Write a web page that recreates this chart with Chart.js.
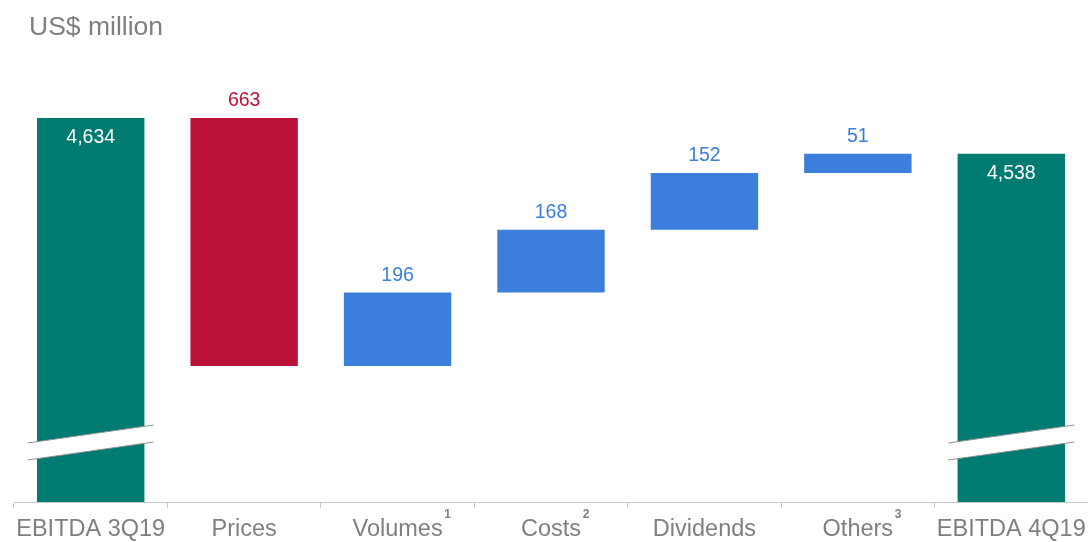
<!DOCTYPE html>
<html>
<head>
<meta charset="utf-8">
<script src="https://cdn.jsdelivr.net/npm/chart.js@4.4.0/dist/chart.umd.min.js"></script>
<style>
  html, body { margin: 0; padding: 0; background: #fff; }
  #wrap { width: 1088px; height: 542px; }
</style>
</head>
<body>
<div id="wrap"><canvas id="chart"></canvas></div>
<script>
// Waterfall data (US$ million)
const categories = ['EBITDA 3Q19', 'Prices', 'Volumes', 'Costs', 'Dividends', 'Others', 'EBITDA 4Q19'];
const superscripts = ['', '', '1', '2', '', '3', ''];
const startValue = 4634;
const changes = [-663, 196, 168, 152, 51];
const endValue = 4538;
const axisMin = 3607;
const axisMax = 4789;

const GREEN = '#007B72';
const RED = '#BA1238';
const BLUE = '#3C7EDC';
const GREY = '#7F7F7F';
const FONT = '"Liberation Sans", Arial, sans-serif';

// Build floating bar ranges
const ranges = [[axisMin, startValue]];
const labels = [startValue];
const colors = [GREEN];
let running = startValue;
changes.forEach(c => {
    const next = running + c;
    ranges.push([Math.min(running, next), Math.max(running, next)]);
    labels.push(Math.abs(c));
    colors.push(c < 0 ? RED : BLUE);
    running = next;
});
ranges.push([axisMin, endValue]);
labels.push(endValue);
colors.push(GREEN);

// Value labels, title, axis-break marks and superscripts
const decorPlugin = {
    id: 'decor',
    afterDatasetsDraw(chart) {
        const ctx = chart.ctx;
        const meta = chart.getDatasetMeta(0);
        const area = chart.chartArea;

        // broken-axis marks on the total bars
        [0, categories.length - 1].forEach(i => {
            const bar = meta.data[i];
            const x0 = bar.x - 63, x1 = bar.x + 63;
            const yTop0 = area.bottom - 59, yTop1 = area.bottom - 77;
            const h = 17;
            ctx.save();
            ctx.fillStyle = '#fff';
            ctx.beginPath();
            ctx.moveTo(x0, yTop0);
            ctx.lineTo(x1, yTop1);
            ctx.lineTo(x1, yTop1 + h);
            ctx.lineTo(x0, yTop0 + h);
            ctx.closePath();
            ctx.fill();
            ctx.strokeStyle = '#909090';
            ctx.lineWidth = 1;
            ctx.beginPath();
            ctx.moveTo(x0, yTop0);
            ctx.lineTo(x1, yTop1);
            ctx.moveTo(x0, yTop0 + h);
            ctx.lineTo(x1, yTop1 + h);
            ctx.stroke();
            ctx.restore();
        });

        // value labels
        ctx.save();
        ctx.font = '19.5px ' + FONT;
        ctx.textAlign = 'center';
        ctx.textBaseline = 'middle';
        meta.data.forEach((bar, i) => {
            const text = labels[i].toLocaleString('en-US');
            if (i === 0 || i === categories.length - 1) {
                ctx.fillStyle = '#fff';
                ctx.fillText(text, bar.x, bar.y + 20);
            } else {
                ctx.fillStyle = colors[i];
                ctx.fillText(text, bar.x, bar.y - 17);
            }
        });
        ctx.restore();

        // title
        ctx.save();
        ctx.font = '26.5px ' + FONT;
        ctx.fillStyle = GREY;
        ctx.textAlign = 'left';
        ctx.textBaseline = 'middle';
        ctx.fillText('US$ million', 29, 28);
        ctx.restore();

        // superscripts on x labels
        const xs = chart.scales.x;
        ctx.save();
        categories.forEach((c, i) => {
            if (!superscripts[i]) return;
            ctx.font = '23.5px ' + FONT;
            const w = ctx.measureText(c).width;
            const x = xs.getPixelForValue(i) + w / 2 + 5;
            ctx.font = 'bold 12px ' + FONT;
            ctx.fillStyle = GREY;
            ctx.textAlign = 'center';
            ctx.textBaseline = 'middle';
            ctx.fillText(superscripts[i], x, 515);
        });
        ctx.restore();
    }
};

new Chart(document.getElementById('chart'), {
    type: 'bar',
    data: {
        labels: categories,
        datasets: [{
            data: ranges,
            backgroundColor: colors,
            borderWidth: 0,
            barPercentage: 0.7,
            categoryPercentage: 1.0
        }]
    },
    options: {
        responsive: true,
        maintainAspectRatio: false,
        animation: false,
        layout: { padding: { top: 60, left: 14, right: 0, bottom: 0 } },
        plugins: {
            legend: { display: false },
            tooltip: { enabled: false }
        },
        scales: {
            y: {
                display: false,
                min: axisMin,
                max: axisMax
            },
            x: {
                offset: true,
                border: { display: true, color: '#c9c9c9', width: 1 },
                grid: {
                    offset: true,
                    drawOnChartArea: false,
                    drawTicks: true,
                    tickLength: 6,
                    color: '#c9c9c9'
                },
                ticks: {
                    color: GREY,
                    padding: 7,
                    font: { size: 23.5, family: FONT },
                    maxRotation: 0,
                    autoSkip: false
                },
                afterFit(scale) {
                    scale.height = 40;
                    scale.paddingLeft = 0;
                    scale.paddingRight = 0;
                }
            }
        }
    },
    plugins: [decorPlugin]
});
</script>
</body>
</html>
